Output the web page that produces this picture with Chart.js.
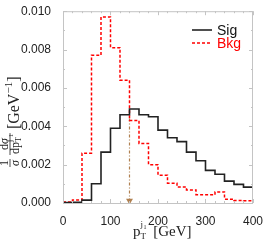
<!DOCTYPE html>
<html lang="en">
<head>
<meta charset="UTF-8">
<title>pT j1</title>
<script src="https://cdn.jsdelivr.net/npm/chart.js@4.4.1/dist/chart.umd.min.js"></script>
<style>
    html, body {margin: 0;padding: 0;background: #fff;overflow: hidden;}
    #box {width: 266px;height: 245px;}
</style>
</head>
<body>
<div id="box"><canvas id="c" width="266" height="245"></canvas></div>
<script>
    // bin edges 0..400 GeV, 20 GeV wide
    const binEdges = [0, 20, 40, 60, 80, 100, 120, 140, 160, 180, 200, 220, 240, 260, 280, 300, 320, 340, 360, 380, 400];
    const sigValues = [0.00002, 0.00004, 0.00015, 0.0010, 0.00265, 0.0039, 0.0046, 0.0049, 0.0046, 0.0045,
        0.0038, 0.0034, 0.0032, 0.00265, 0.0022, 0.0017, 0.0015, 0.00114, 0.00097, 0.00083];
    const bkgValues = [0.00005, 0.00015, 0.0026, 0.0077, 0.0097, 0.0081, 0.0064, 0.0043, 0.0031, 0.0020,
        0.00145, 0.00103, 0.00083, 0.00068, 0.00043, 0.00043, 0.00058, 0.00020, 0.00013, 0.00012];
    const cutX = [140, 140];
    const cutY = [0.0044, 0.00012];
    const yTicks = [0, 0.002, 0.004, 0.006, 0.008, 0.010];
    const xTicks = [0, 100, 200, 300, 400];

    // histogram outline: each bin gives a flat top from left edge to right edge
    function histPoints(vals) {
        let pts = [];
        vals.forEach((v, i) => {
            pts.push({x: binEdges[i], y: v});
            pts.push({x: binEdges[i + 1], y: v});
        });
        return pts;
    }

    const serif = '"Liberation Serif", "DejaVu Serif", serif';

    function runWidth(ctx, parts) {
        let w = 0;
        for (const p of parts) {
            ctx.font = (p.it ? 'italic ' : '') + p.s + 'px ' + serif;
            w += p.stack ? 0 : ctx.measureText(p.t).width;
        }
        return w;
    }

    function drawRun(ctx, u, v, parts) {
        for (const p of parts) {
            ctx.font = (p.it ? 'italic ' : '') + p.s + 'px ' + serif;
            ctx.fillText(p.t, u, v + (p.dv || 0));
            if (!p.stack) u += ctx.measureText(p.t).width;
        }
        return u;
    }

    function drawFrac(ctx, u, barV, num, den) {
        let wn = runWidth(ctx, num), wd = runWidth(ctx, den);
        let w = Math.max(wn, wd) + 2;
        drawRun(ctx, u + (w - wn) / 2, barV - 2, num);
        drawRun(ctx, u + (w - wd) / 2, barV + 9, den);
        ctx.fillRect(u, barV - 0.4, w, 0.8);
        return u + w;
    }

    const decor = {
        id: 'decor',
        afterDraw(chart) {
            const ctx = chart.ctx;
            const xs = chart.scales.x, ys = chart.scales.y;
            const a = chart.chartArea;
            ctx.save();
            // frame and inward ticks
            ctx.strokeStyle = '#c4c4c4';
            ctx.lineWidth = 1;
            ctx.strokeRect(a.left + 0.5, a.top + 0.5, a.right - a.left - 1, a.bottom - a.top);
            ctx.beginPath();
            for (let gx = 0; gx <= 400; gx += 20) {
                let px = Math.round(xs.getPixelForValue(gx)) + 0.5;
                let len = gx % 100 === 0 ? 4 : 2;
                ctx.moveTo(px, a.bottom); ctx.lineTo(px, a.bottom - len);
                ctx.moveTo(px, a.top); ctx.lineTo(px, a.top + len);
            }
            for (let k = 0; k <= 10; k++) {
                let py = Math.round(ys.getPixelForValue(k * 0.001)) + 0.5;
                let len = k % 2 === 0 ? 4 : 2;
                ctx.moveTo(a.left, py); ctx.lineTo(a.left + len, py);
                ctx.moveTo(a.right, py); ctx.lineTo(a.right - len, py);
            }
            ctx.stroke();

            // legend
            ctx.lineWidth = 1.6;
            ctx.strokeStyle = '#222';
            ctx.beginPath(); ctx.moveTo(192, 30); ctx.lineTo(212, 30); ctx.stroke();
            ctx.strokeStyle = '#ff0000';
            ctx.setLineDash([3, 2]);
            ctx.beginPath(); ctx.moveTo(192, 43); ctx.lineTo(212, 43); ctx.stroke();
            ctx.setLineDash([]);
            ctx.font = '14px "Liberation Sans", Arial, sans-serif';
            ctx.textAlign = 'left';
            ctx.textBaseline = 'alphabetic';
            ctx.fillStyle = '#111';
            ctx.fillText('Sig', 217, 35);
            ctx.fillStyle = '#ff0000';
            ctx.fillText('Bkg', 217, 48);

            // x title  p_T^{j1} [GeV]
            ctx.fillStyle = '#222';
            let u = 133;
            u = drawRun(ctx, u, 236, [{t: 'p', s: 15}]);
            drawRun(ctx, u, 239, [{t: 'T', s: 9}]);
            drawRun(ctx, u, 227, [{t: 'j', s: 9}]);
            drawRun(ctx, u + 3, 229, [{t: '1', s: 6}]);
            u += 9;
            drawRun(ctx, u, 236, [{t: ' [GeV]', s: 15}]);

            // y title  1/σ dσ/dp_T^{j1} [GeV^-1], rotated
            ctx.translate(19, 167);
            ctx.rotate(-Math.PI / 2);
            u = 0;
            u = drawFrac(ctx, u, -9, [{t: '1', s: 12}], [{t: 'σ', s: 12, it: true}]);
            u += 4;
            u = drawFrac(ctx, u, -9, [{t: 'd', s: 12}, {t: 'σ', s: 12, it: true}],
                [{t: 'dp', s: 12}, {t: 'j', s: 8, dv: -7, stack: true}, {t: 'T', s: 8, dv: 2}, {t: '1', s: 6, dv: -6}]);
            u += 4;
            u = drawRun(ctx, u, 0, [{t: '[GeV', s: 16}]);
            u = drawRun(ctx, u, -7, [{t: '−1', s: 11}]);
            drawRun(ctx, u, 0, [{t: ']', s: 16}]);
            ctx.restore();
        }
    };

    const tickFont = {family: '"Liberation Sans", Arial, sans-serif', size: 12};

    new Chart(document.getElementById('c'), {
        type: 'line',
        data: {
            datasets: [{
                label: 'Sig',
                data: histPoints(sigValues),
                borderColor: '#222',
                borderWidth: 1.6,
                pointRadius: 0,
                tension: 0
            }, {
                label: 'Bkg',
                data: histPoints(bkgValues),
                borderColor: '#ff0000',
                borderWidth: 1.5,
                borderDash: [3, 2],
                pointRadius: 0,
                tension: 0
            }, {
                label: 'cut',
                data: cutX.map((x, i) => ({x: x, y: cutY[i]})),
                borderColor: 'rgb(176,128,80)',
                backgroundColor: 'rgb(176,128,80)',
                borderWidth: 1.2,
                borderDash: [3, 2, 1, 2],
                pointStyle: 'triangle',
                pointRotation: 180,
                pointRadius: [0, 4],
                pointBorderWidth: 0,
                tension: 0
            }]
        },
        options: {
            responsive: false,
            animation: false,
            layout: {padding: {top: 11, right: 10, left: 0, bottom: 0}},
            plugins: {legend: {display: false}, tooltip: {enabled: false}},
            scales: {
                x: {
                    type: 'linear', min: 0, max: 400,
                    afterBuildTicks: s => { s.ticks = xTicks.map(v => ({value: v})); },
                    afterFit: s => { s.height = 42; },
                    grid: {display: false},
                    border: {display: false},
                    ticks: {font: tickFont, color: '#222', padding: 3, maxRotation: 0}
                },
                y: {
                    type: 'linear', min: 0, max: 0.010,
                    afterBuildTicks: s => { s.ticks = yTicks.map(v => ({value: v})); },
                    afterFit: s => { s.width = 63; },
                    grid: {display: false},
                    border: {display: false},
                    ticks: {font: tickFont, color: '#222', padding: 4, callback: v => v.toFixed(3)}
                }
            }
        },
        plugins: [decor]
    });
</script>
</body>
</html>
